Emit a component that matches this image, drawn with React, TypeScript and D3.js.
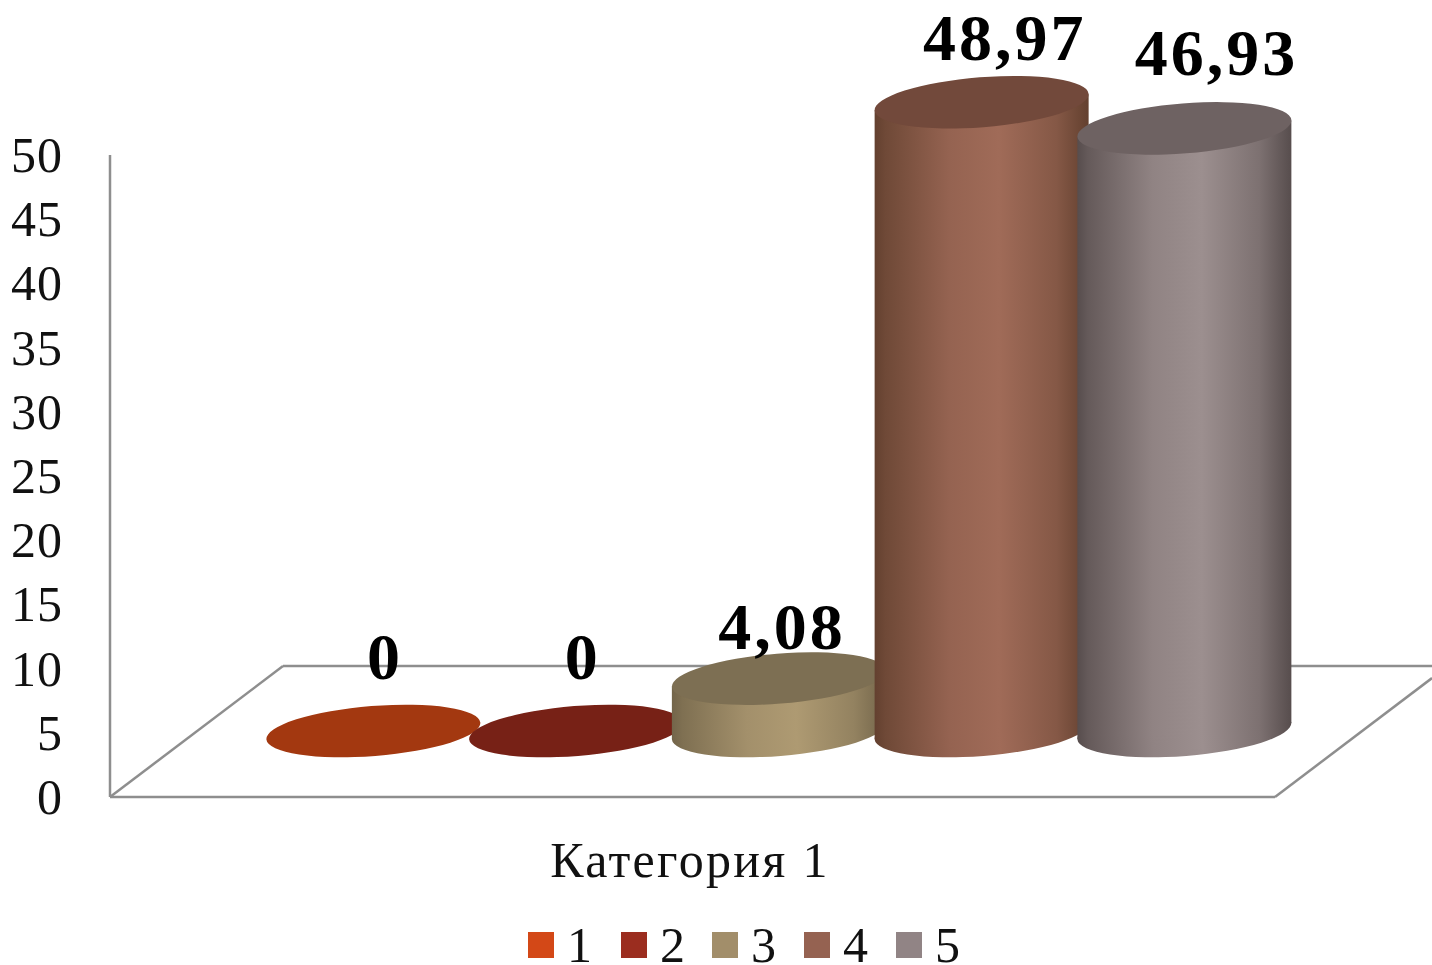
import React from "react";
import * as d3 from "d3";

const seriesNames = ["1", "2", "3", "4", "5"];
const seriesValues = [0, 0, 4.08, 48.97, 46.93];
const valueLabels = ["0", "0", "4,08", "48,97", "46,93"];
const categoryName = "Категория 1";
const legendColors = ["#d34817", "#9b2d1f", "#a28e6a", "#956251", "#918485"];
const topColors = ["#a33810", "#772116", "#7d6f53", "#72493b", "#6e6262"];
const edgeColors = ["#7a2a0c", "#5c1a11", "#73654a", "#63402f", "#574d4d"];
const midColors = ["#d34817", "#9b2d1f", "#ae9a72", "#a06b58", "#9c8f8f"];

const W = 1432;
const H = 965;
const SERIF = "'Liberation Serif', serif";

// Value-axis geometry
const y = d3.scaleLinear().domain([0, 50]).range([797, 155]);
const x = d3.scaleBand<string>().domain(seriesNames).range([272, 1285.75]);
const yTicks = y.ticks(10);

// 3D floor: depth offset of the back wall
const FLOOR_LEFT = 110;
const FLOOR_RIGHT = 1275;
const DEPTH_X = 173;
const DEPTH_Y = 131;
const BASE_SHIFT = 66; // bars stand mid-floor

// Tilted ellipse of a cylinder cap
const RX = 107.3;
const RY = 25;
const TILT = -4.5;
const EDGE_DY = 8;
const HALF_W = 107;

const labelDx = [10, 5, 3, 23, 32];
const labelDy = [-52, -52, -30, -42, -53];
const labelSpacing = [0, 0, 3, 3, 3];

const legendBoxX = [528, 621, 712, 804, 896];

export default function App() {
  const axisColor = "#8e8e8e";
  const sw = 2.5;
  const clipX = W;
  const clipT = (clipX - FLOOR_RIGHT) / DEPTH_X;
  return (
    <svg
      width={W}
      height={H}
      viewBox={`0 0 ${W} ${H}`}
      style={{ position: "absolute", left: 0, top: 0, display: "block", background: "#fff" }}
    >
      <defs>
        {seriesNames.map((n, i) => {
          const cx = x(n)! + x.bandwidth() / 2;
          return (
            <linearGradient
              key={n}
              id={`cyl${i}`}
              gradientUnits="userSpaceOnUse"
              x1={cx - HALF_W}
              x2={cx + HALF_W}
              y1={0}
              y2={0}
            >
              <stop offset="0" stopColor={edgeColors[i]} />
              <stop offset="0.05" stopColor={d3.interpolateRgb(edgeColors[i], midColors[i])(0.2)} />
              <stop offset="0.35" stopColor={d3.interpolateRgb(edgeColors[i], midColors[i])(0.82)} />
              <stop offset="0.58" stopColor={midColors[i]} />
              <stop offset="0.85" stopColor={d3.interpolateRgb(edgeColors[i], midColors[i])(0.55)} />
              <stop offset="1" stopColor={edgeColors[i]} />
            </linearGradient>
          );
        })}
      </defs>

      {/* Floor and value axis */}
      <g fill="none" stroke={axisColor} strokeWidth={sw}>
        <line x1={FLOOR_LEFT} y1={y(50)} x2={FLOOR_LEFT} y2={y(0)} />
        <line x1={FLOOR_LEFT} y1={y(0)} x2={FLOOR_RIGHT} y2={y(0)} />
        <line x1={FLOOR_LEFT} y1={y(0)} x2={FLOOR_LEFT + DEPTH_X} y2={y(0) - DEPTH_Y} />
        <line x1={FLOOR_LEFT + DEPTH_X} y1={y(0) - DEPTH_Y} x2={W} y2={y(0) - DEPTH_Y} />
        <line
          x1={FLOOR_RIGHT}
          y1={y(0)}
          x2={clipX}
          y2={y(0) - DEPTH_Y * clipT}
        />
      </g>

      {/* Tick labels */}
      {yTicks.map((t) => (
        <text
          key={t}
          x={63}
          y={y(t)}
          dy="0.34em"
          textAnchor="end"
          fontFamily={SERIF}
          fontSize={50}
          letterSpacing={1}
          fill="#111"
        >
          {t}
        </text>
      ))}

      {/* Cylinders */}
      {seriesNames.map((n, i) => {
        const cx = x(n)! + x.bandwidth() / 2;
        const v = seriesValues[i];
        const baseY = y(0) - BASE_SHIFT;
        const topY = baseY - (y(0) - y(v));
        const path = d3.path();
        path.moveTo(cx - HALF_W, topY + EDGE_DY);
        path.lineTo(cx - HALF_W, baseY + EDGE_DY);
        path.lineTo(cx + HALF_W, baseY - EDGE_DY);
        path.lineTo(cx + HALF_W, topY - EDGE_DY);
        path.closePath();
        return (
          <g key={n}>
            {v > 0 && (
              <>
                <ellipse
                  cx={cx}
                  cy={baseY}
                  rx={RX}
                  ry={RY}
                  transform={`rotate(${TILT} ${cx} ${baseY})`}
                  fill={`url(#cyl${i})`}
                />
                <path d={path.toString()} fill={`url(#cyl${i})`} />
              </>
            )}
            <ellipse
              cx={cx}
              cy={topY}
              rx={RX}
              ry={RY}
              transform={`rotate(${TILT} ${cx} ${topY})`}
              fill={topColors[i]}
            />
          </g>
        );
      })}

      {/* Value labels */}
      {seriesNames.map((n, i) => {
        const cx = x(n)! + x.bandwidth() / 2;
        const topY = y(0) - BASE_SHIFT - (y(0) - y(seriesValues[i]));
        return (
          <text
            key={n}
            x={cx + labelDx[i]}
            y={topY + labelDy[i]}
            textAnchor="middle"
            fontFamily={SERIF}
            fontWeight={700}
            fontSize={66}
            letterSpacing={labelSpacing[i]}
            fill="#000"
          >
            {valueLabels[i]}
          </text>
        );
      })}

      {/* Category label */}
      <text
        x={690}
        y={877}
        textAnchor="middle"
        fontFamily={SERIF}
        fontSize={50}
        letterSpacing={2.3}
        fill="#111"
      >
        {categoryName}
      </text>

      {/* Legend */}
      {seriesNames.map((n, i) => (
        <g key={n}>
          <rect x={legendBoxX[i]} y={932} width={26} height={26} fill={legendColors[i]} />
          <text
            x={legendBoxX[i] + 39}
            y={962}
            fontFamily={SERIF}
            fontSize={50}
            fill="#111"
          >
            {n}
          </text>
        </g>
      ))}
    </svg>
  );
}
